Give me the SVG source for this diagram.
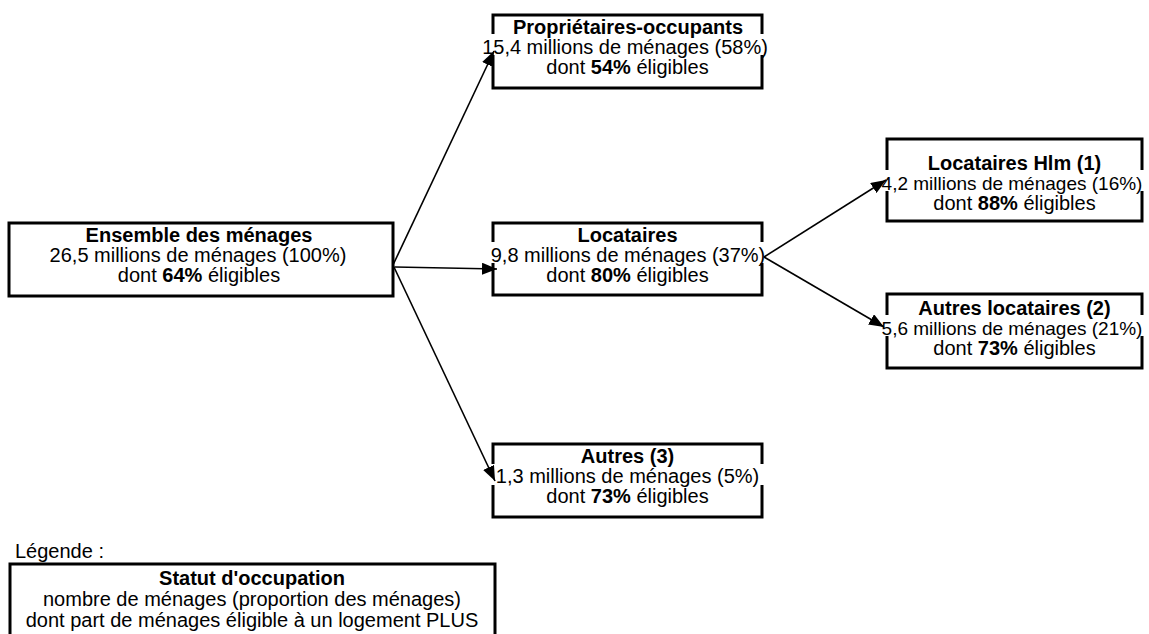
<svg xmlns="http://www.w3.org/2000/svg" width="1149" height="634" viewBox="0 0 1149 634">
<style>
.box{fill:#fff;stroke:#000;stroke-width:3}
.gap{fill:#fff;stroke:none}
.t{font-family:"Liberation Sans",Arial,Helvetica,sans-serif;font-size:20px;fill:#000;text-anchor:middle}
.s{font-size:19px}
.b{font-weight:bold}
.lg{font-family:"Liberation Sans",Arial,Helvetica,sans-serif;font-size:20px;fill:#000}
.c{fill:none;stroke:#000;stroke-width:1.6}
</style>
<defs>
<marker id="arr" markerWidth="15" markerHeight="12" refX="15" refY="6" orient="auto" markerUnits="userSpaceOnUse">
<path d="M0,0 L15,6 L0,12 z" fill="#000"/>
</marker>
</defs>
<rect width="1149" height="634" fill="#fff"/>

<g id="node-ensemble">
<rect class="box" x="9" y="223" width="384" height="73"/>
<text class="t b" x="199" y="242">Ensemble des ménages</text>
<text class="t" x="198" y="262">26,5 millions de ménages (100%)</text>
<text class="t" x="199" y="282">dont <tspan class="b">64%</tspan> éligibles</text>
</g>

<g id="node-proprietaires">
<rect class="box" x="493" y="15" width="269" height="73"/>
<rect class="gap" x="489" y="34" width="277" height="21"/>
<text class="t b" x="628" y="34">Propriétaires-occupants</text>
<text class="t" x="625" y="54">15,4 millions de ménages (58%)</text>
<text class="t" x="627.5" y="74">dont <tspan class="b">54%</tspan> éligibles</text>
</g>

<g id="node-locataires">
<rect class="box" x="493" y="223" width="269" height="72"/>
<rect class="gap" x="489" y="242" width="277" height="21"/>
<text class="t b" x="627.5" y="242">Locataires</text>
<text class="t" x="628" y="262">9,8 millions de ménages (37%)</text>
<text class="t" x="627.5" y="282">dont <tspan class="b">80%</tspan> éligibles</text>
</g>

<g id="node-autres">
<rect class="box" x="493" y="444" width="269" height="73"/>
<rect class="gap" x="489" y="464" width="277" height="21"/>
<text class="t b" x="627.5" y="463">Autres (3)</text>
<text class="t" x="627.5" y="483">1,3 millions de ménages (5%)</text>
<text class="t" x="627.5" y="503">dont <tspan class="b">73%</tspan> éligibles</text>
</g>

<g id="node-hlm">
<rect class="box" x="887" y="139" width="255" height="82"/>
<rect class="gap" x="883" y="170" width="263" height="21"/>
<text class="t b" x="1014.5" y="170">Locataires Hlm (1)</text>
<text class="t s" x="1012" y="190">4,2 millions de ménages (16%)</text>
<text class="t" x="1014.5" y="210">dont <tspan class="b">88%</tspan> éligibles</text>
</g>

<g id="node-autres-locataires">
<rect class="box" x="887" y="294" width="255" height="74"/>
<rect class="gap" x="883" y="315" width="263" height="21"/>
<text class="t b" x="1014.5" y="315">Autres locataires (2)</text>
<text class="t s" x="1012" y="335">5,6 millions de ménages (21%)</text>
<text class="t" x="1014.5" y="355">dont <tspan class="b">73%</tspan> éligibles</text>
</g>

<g id="legend">
<text class="lg" x="15" y="558">Légende :</text>
<rect class="box" x="10" y="564" width="485" height="100"/>
<text class="t b" x="252" y="585">Statut d'occupation</text>
<text class="t" x="252" y="606">nombre de ménages (proportion des ménages)</text>
<text class="t" x="252" y="627">dont part de ménages éligible à un logement PLUS</text>
</g>

<g id="connectors">
<path class="c" d="M393,265 L494,51" marker-end="url(#arr)"/>
<path class="c" d="M395,267 L497,269" marker-end="url(#arr)"/>
<path class="c" d="M393,265 L495,481" marker-end="url(#arr)"/>
<path class="c" d="M764,257 L886,180" marker-end="url(#arr)"/>
<path class="c" d="M764,257 L884,327" marker-end="url(#arr)"/>
</g>
</svg>
